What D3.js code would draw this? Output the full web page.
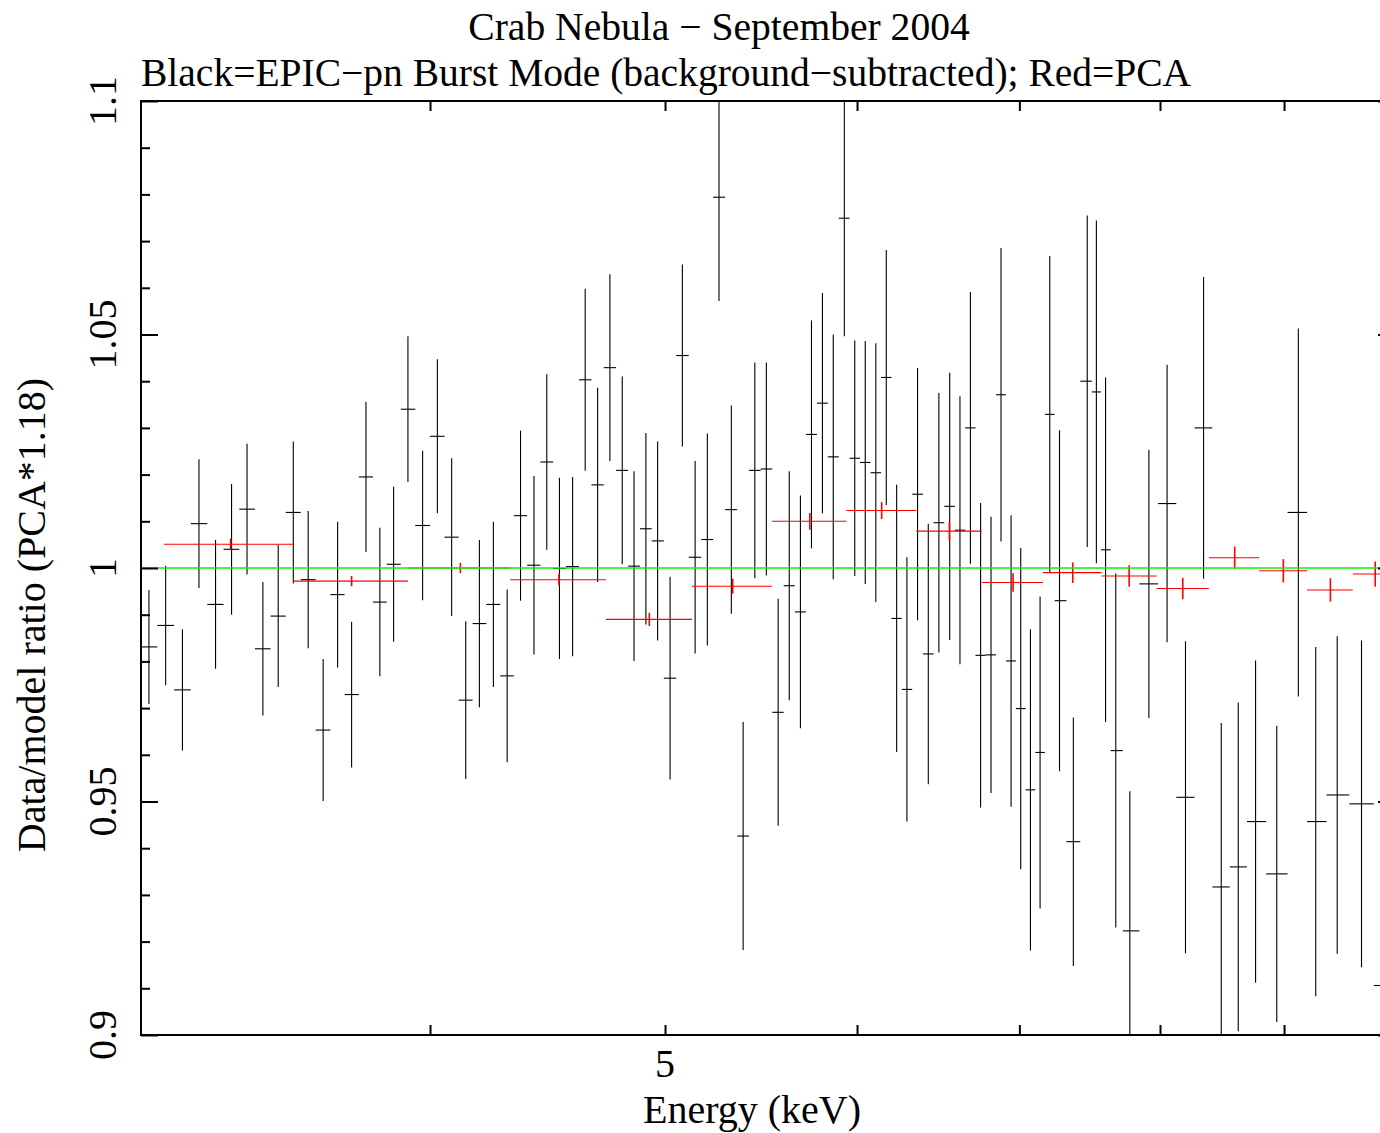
<!DOCTYPE html>
<html>
<head>
<meta charset="utf-8">
<script src="https://cdn.jsdelivr.net/npm/d3@7"></script>
<style>
  body { margin: 0; background: #fff; }
  text { font-family: "Liberation Serif", "Times New Roman", serif; fill: #000; }
</style>
</head>
<body>
<script>
// EPIC-pn burst mode (black): bin centre energy (keV), ratio, 1-sigma error
var blackEnergy = [3.063, 3.112, 3.162, 3.212, 3.263, 3.313, 3.362, 3.413, 3.463, 3.513,
  3.563, 3.614, 3.664, 3.713, 3.764, 3.814, 3.864, 3.917, 3.972, 4.028,
  4.083, 4.138, 4.192, 4.248, 4.304, 4.359, 4.415, 4.469, 4.523, 4.580,
  4.635, 4.690, 4.745, 4.801, 4.855, 4.910, 4.965, 5.024, 5.083, 5.145,
  5.205, 5.263, 5.325, 5.385, 5.445, 5.505, 5.567, 5.626, 5.686, 5.746,
  5.806, 5.866, 5.928, 5.987, 6.047, 6.108, 6.169, 6.230, 6.291, 6.355,
  6.420, 6.485, 6.552, 6.616, 6.682, 6.747, 6.814, 6.879, 6.945, 7.009,
  7.074, 7.139, 7.205, 7.272, 7.368, 7.466, 7.531, 7.597, 7.671, 7.774,
  7.916, 8.054, 8.196, 8.338, 8.479, 8.617, 8.760, 8.938, 9.123, 9.275,
  9.466, 9.687, 9.916]
var blackRatio = [0.9831, 0.9877, 0.9739, 1.0095, 0.9922, 1.0040, 1.0126, 0.9827, 0.9897, 1.0119,
  0.9975, 0.9653, 0.9943, 0.9729, 1.0195, 0.9927, 1.0008, 1.0340, 1.0091, 1.0282,
  1.0066, 0.9717, 0.9881, 0.9922, 0.9769, 1.0112, 1.0006, 1.0227, 0.9999, 1.0003,
  1.0403, 1.0178, 1.0429, 1.0209, 1.0004, 1.0084, 1.0058, 0.9764, 1.0455, 1.0023,
  1.0061, 1.0794, 1.0125, 0.9426, 1.0209, 1.0212, 0.9691, 0.9962, 0.9906, 1.0286,
  1.0353, 1.0238, 1.0749, 1.0235, 1.0226, 1.0204, 1.0408, 0.9892, 0.9740, 1.0158,
  0.9816, 1.0097, 1.0132, 1.0081, 1.0300, 0.9813, 0.9814, 1.0371, 0.9801, 0.9699,
  0.9525, 0.9605, 1.0329, 0.9930, 0.9414, 1.0400, 1.0377, 1.0039, 0.9609, 0.9223,
  0.9966, 1.0138, 0.9509, 1.0300, 0.9317, 0.9360, 0.9457, 0.9345, 1.0119, 0.9457,
  0.9514, 0.9495, 0.9106]
var blackErr = [0.0122, 0.0128, 0.0130, 0.0138, 0.0138, 0.0140, 0.0140, 0.0143, 0.0152, 0.0152,
  0.0147, 0.0152, 0.0156, 0.0156, 0.0161, 0.0159, 0.0166, 0.0156, 0.0160, 0.0165,
  0.0169, 0.0169, 0.0179, 0.0177, 0.0185, 0.0182, 0.0191, 0.0188, 0.0194, 0.0192,
  0.0195, 0.0208, 0.0200, 0.0201, 0.0203, 0.0205, 0.0213, 0.0217, 0.0195, 0.0206,
  0.0227, 0.0222, 0.0223, 0.0244, 0.0231, 0.0228, 0.0243, 0.0245, 0.0249, 0.0244,
  0.0236, 0.0262, 0.0253, 0.0252, 0.0260, 0.0277, 0.0273, 0.0286, 0.0283, 0.0270,
  0.0279, 0.0278, 0.0286, 0.0287, 0.0291, 0.0326, 0.0296, 0.0314, 0.0312, 0.0344,
  0.0344, 0.0334, 0.0339, 0.0365, 0.0266, 0.0355, 0.0367, 0.0369, 0.0379, 0.0299,
  0.0287, 0.0297, 0.0334, 0.0323, 0.0351, 0.0352, 0.0345, 0.0317, 0.0394, 0.0374,
  0.0340, 0.0350, 0.0360]

// PCA (red): bin centre, bin edges, ratio, error
var redEnergy = [3.310, 3.713, 4.117, 4.521, 4.926, 5.332, 5.737, 6.142, 6.550, 6.958, 7.364, 7.769, 8.175, 8.588, 8.994, 9.405, 9.814]
var redELo    = [3.107, 3.513, 3.917, 4.316, 4.727, 5.130, 5.535, 5.940, 6.348, 6.754, 7.159, 7.568, 7.974, 8.380, 8.790, 9.199, 9.607]
var redEHi    = [3.513, 3.917, 4.316, 4.727, 5.130, 5.535, 5.940, 6.348, 6.754, 7.159, 7.568, 7.974, 8.380, 8.790, 9.199, 9.607, 10.02]
var redRatio  = [1.0051, 0.9972, 1.0000, 0.9975, 0.9890, 0.9961, 1.0100, 1.0123, 1.0079, 0.9969, 0.9990, 0.9983, 0.9956, 1.0022, 0.9994, 0.9953, 0.9987]
var redErr    = [0.0012, 0.0011, 0.0011, 0.0012, 0.0014, 0.0016, 0.0018, 0.0018, 0.0020, 0.0020, 0.0022, 0.0023, 0.0023, 0.0024, 0.0025, 0.0025, 0.0027]

// model line (green)
var modelRatio = 1.0

// ticks
var xTicks = [4, 5, 6, 7, 8, 9]
var xLabels = [5]
var yMajor = [0.9, 0.95, 1.0, 1.05, 1.1]
var yMinor = [0.91, 0.92, 0.93, 0.94, 0.96, 0.97, 0.98, 0.99, 1.01, 1.02, 1.03, 1.04, 1.06, 1.07, 1.08, 1.09]
var yLabels = ["0.9", "0.95", "1", "1.05", "1.1"]

var titleLine1 = "Crab Nebula \u2212 September 2004"
var titleLine2 = "Black=EPIC\u2212pn Burst Mode (background\u2212subtracted); Red=PCA"
var xTitle = "Energy (keV)"
var yTitle = "Data/model ratio (PCA*1.18)"

var W = 1380, H = 1133
var pLeft = 141, pRight = 1395, pTop = 101, pBottom = 1035

var svg = d3.select("body").append("svg")
    .attr("width", W).attr("height", H)

var x = d3.scaleLog().domain([3.04, 10]).range([pLeft, pRight])
var y = d3.scaleLinear().domain([0.9, 1.1]).range([pBottom, pTop])

//clip
svg.append("clipPath").attr("id", "plotclip")
   .append("rect").attr("x", pLeft).attr("y", pTop)
   .attr("width", pRight - pLeft).attr("height", pBottom - pTop)

var plot = svg.append("g").attr("clip-path", "url(#plotclip)")

// black bins: edges at geometric midpoints between neighbouring centres
var black = blackEnergy.map(function(e, i) {
    var prev = i > 0 ? blackEnergy[i - 1] : e * e / blackEnergy[1]
    var next = i < blackEnergy.length - 1 ? blackEnergy[i + 1] : e * e / blackEnergy[i - 1]
    return { e: e, lo: Math.sqrt(prev * e), hi: Math.sqrt(e * next), v: blackRatio[i], err: blackErr[i] }
})

var gb = plot.append("g").attr("stroke", "#000").attr("stroke-width", 1.1)
gb.selectAll(".bv").data(black).enter().append("line")
  .attr("x1", d => x(d.e)).attr("x2", d => x(d.e))
  .attr("y1", d => y(d.v - d.err)).attr("y2", d => y(d.v + d.err))
gb.selectAll(".bh").data(black).enter().append("line")
  .attr("x1", d => x(d.lo)).attr("x2", d => x(d.hi))
  .attr("y1", d => y(d.v)).attr("y2", d => y(d.v))

var red = redEnergy.map(function(e, i) {
    return { e: e, lo: redELo[i], hi: redEHi[i], v: redRatio[i], err: redErr[i] }
})
var gr = plot.append("g").attr("stroke", "#ff0000")
gr.selectAll(".rv").data(red).enter().append("line")
  .attr("stroke-width", 1.6)
  .attr("x1", d => x(d.e)).attr("x2", d => x(d.e))
  .attr("y1", d => y(d.v - d.err)).attr("y2", d => y(d.v + d.err))
gr.selectAll(".rh").data(red).enter().append("line")
  .attr("stroke-width", 1.1)
  .attr("x1", d => x(d.lo)).attr("x2", d => x(d.hi))
  .attr("y1", d => y(d.v)).attr("y2", d => y(d.v))

plot.append("line")
    .attr("x1", pLeft).attr("x2", pRight)
    .attr("y1", y(modelRatio)).attr("y2", y(modelRatio))
    .attr("stroke", "#11ee11").attr("stroke-width", 1.6)

// axes (ticks inside)
function styleAxis(g) {
    g.select(".domain").remove()
    g.selectAll(".tick line").attr("stroke", "#000").attr("stroke-width", 2)
}
svg.append("g").attr("transform", "translate(0," + pBottom + ")")
   .call(d3.axisBottom(x).tickValues(xTicks).tickSize(-10).tickFormat(""))
   .call(styleAxis)
svg.append("g").attr("transform", "translate(0," + pTop + ")")
   .call(d3.axisTop(x).tickValues(xTicks).tickSize(-10).tickFormat(""))
   .call(styleAxis)
svg.append("g").attr("transform", "translate(" + pLeft + ",0)")
   .call(d3.axisLeft(y).tickValues(yMinor).tickSize(-9).tickFormat(""))
   .call(styleAxis)
svg.append("g").attr("transform", "translate(" + pLeft + ",0)")
   .call(d3.axisLeft(y).tickValues(yMajor).tickSize(-17).tickFormat(""))
   .call(styleAxis)
svg.append("g").attr("transform", "translate(" + pRight + ",0)")
   .call(d3.axisRight(y).tickValues(yMinor).tickSize(-9).tickFormat(""))
   .call(styleAxis)
svg.append("g").attr("transform", "translate(" + pRight + ",0)")
   .call(d3.axisRight(y).tickValues(yMajor).tickSize(-17).tickFormat(""))
   .call(styleAxis)

svg.append("rect")
   .attr("x", pLeft).attr("y", pTop)
   .attr("width", pRight - pLeft).attr("height", pBottom - pTop)
   .attr("fill", "none").attr("stroke", "#000").attr("stroke-width", 2)

// tick labels
svg.selectAll(".xl").data(xLabels).enter().append("text")
   .attr("x", d => x(d)).attr("y", 1077)
   .attr("text-anchor", "middle").attr("font-size", 40)
   .text(d => d)

svg.selectAll(".yl").data(yMajor).enter().append("text")
   .attr("transform", d => "translate(116," + y(d) + ") rotate(-90)")
   .attr("text-anchor", "middle").attr("font-size", 40)
   .text((d, i) => yLabels[i])

// titles
svg.append("text").attr("x", 719).attr("y", 40)
   .attr("text-anchor", "middle").attr("font-size", 39.6).text(titleLine1)
svg.append("text").attr("x", 141).attr("y", 86)
   .attr("font-size", 39.5).text(titleLine2)
svg.append("text").attr("x", 752).attr("y", 1123)
   .attr("text-anchor", "middle").attr("font-size", 40).text(xTitle)
svg.append("text")
   .attr("transform", "translate(45,615) rotate(-90)")
   .attr("text-anchor", "middle").attr("font-size", 40).text(yTitle)
</script>
</body>
</html>
